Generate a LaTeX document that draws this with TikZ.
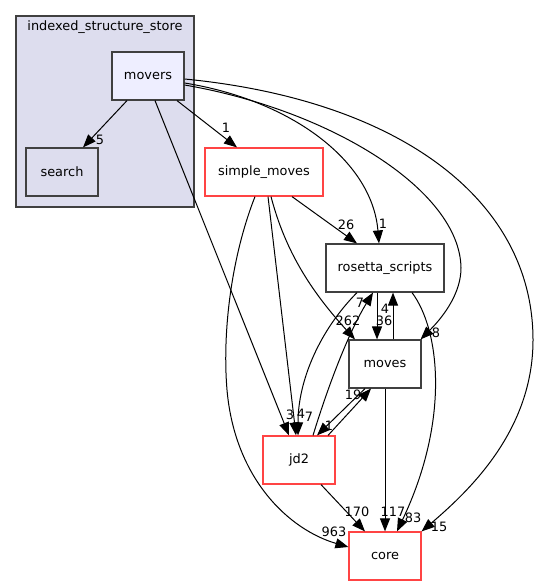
\documentclass[tikz,border=0pt]{standalone}
\usepackage{fontspec}
\setmainfont{DejaVu Sans}
\usetikzlibrary{arrows.meta}

\definecolor{clfill}{HTML}{DDDDEE}
\definecolor{dirfill}{HTML}{EEEEFF}
\definecolor{grey25}{HTML}{404040}
\definecolor{redline}{HTML}{FF4444}

\begin{document}
\begin{tikzpicture}[x=1pt, y=-1pt, font=\fontsize{12.9}{15}\selectfont,
  dirbox/.style={draw=grey25, line width=1.2pt, fill=white, minimum width=72pt, minimum height=48pt, inner sep=0pt},
  truncbox/.style={dirbox, draw=redline},
  dep/.style={-{Triangle[length=13pt,width=10pt]}, line width=1pt},
  num/.style={inner sep=0pt}]
\useasboundingbox (0,0) rectangle (539,585);
% 目录框
\node[draw=grey25, fill=clfill, line width=1.2pt, minimum width=178pt, minimum height=191pt, inner sep=0pt] (store) at (105,111.5) {};
\node[num] (storename) at (105,27) {indexed\_structure\_store};
% 目录
\node[dirbox, fill=dirfill] (movers) at (148,76) {movers};
\node[dirbox, fill=none] (search) at (62,172) {search};
\node[truncbox, minimum width=118pt] (simple) at (264,172) {simple\_moves};
\node[dirbox, minimum width=118pt] (rosetta) at (385,268) {rosetta\_scripts};
\node[dirbox] (moves) at (385,364) {moves};
\node[truncbox] (jd2) at (299,460) {jd2};
\node[truncbox] (core) at (385,556) {core};
% movers 出发
\draw[dep] ([xshift=-21pt]movers.south) -- ([xshift=21pt]search.north);
\draw[dep] ([xshift=29pt]movers.south) -- ([xshift=-27pt]simple.north);
\draw[dep] ([xshift=7pt]movers.south) -- ([xshift=-10pt]jd2.north);
\draw[dep] ([yshift=-7pt]movers.east) .. controls (290,100) and (372,160) .. ([xshift=-6pt]rosetta.north);
\draw[dep] ([yshift=-9pt]movers.east) .. controls (330,110) and (460,190) .. (461,268) .. controls (461,292) and (445,315) .. ([xshift=-1pt]moves.north east);
\draw[dep] ([yshift=-3pt]movers.east) .. controls (400,100) and (533,200) .. (533,340) .. controls (533,430) and (470,490) .. (core.north east);
% simple_moves 出发
\draw[dep] ([xshift=28pt]simple.south) -- ([xshift=-28pt]rosetta.north);
\draw[dep] ([xshift=7pt]simple.south) .. controls (285,250) and (310,290) .. ([xshift=-30pt]moves.north);
\draw[dep] ([xshift=4pt]simple.south) -- ([xshift=-3pt]jd2.north);
\draw[dep] ([xshift=-9pt]simple.south) .. controls (232,255) and (222,330) .. (227,390) .. controls (235,480) and (290,530) .. ([yshift=9pt]core.west);
% rosetta_scripts 出发
\draw[dep] ([xshift=-8pt]rosetta.south) -- ([xshift=-8pt]moves.north);
\draw[dep] ([xshift=-28pt]rosetta.south) .. controls (320,330) and (298,380) .. ([xshift=-1pt]jd2.north);
\draw[dep] ([xshift=27pt]rosetta.south) .. controls (440,330) and (450,420) .. ([xshift=12pt]core.north);
% moves 出发
\draw[dep] ([xshift=8pt]moves.north) -- ([xshift=8pt]rosetta.south);
\draw[dep] ([xshift=-20pt]moves.south) -- ([xshift=18pt]jd2.north);
\draw[dep] (moves.south) -- (core.north);
% jd2 出发
\draw[dep] ([xshift=14pt]jd2.north) .. controls (330,380) and (350,330) .. ([xshift=-12pt]rosetta.south);
\draw[dep] ([xshift=29pt]jd2.north) -- ([xshift=-14pt]moves.south);
\draw[dep] ([xshift=22pt]jd2.south) -- ([xshift=-20pt]core.north);
%Text
\node[num] (n5) at (100,140) {5};
\node[num] (n1a) at (226,128) {1};
\node[num] (n1b) at (383,224) {1};
\node[num] (n8) at (436,333) {8};
\node[num] (n15) at (439,527) {15};
\node[num] (n26) at (346,225) {26};
\node[num] (n262) at (348,321) {262};
\node[num] (n3) at (290,415) {3};
\node[num] (n4a) at (301,414) {4};
\node[num] (n7a) at (309,417) {7};
\node[num] (n963) at (334,532) {963};
\node[num] (n7b) at (360,303) {7};
\node[num] (n4b) at (385,309) {4};
\node[num] (n36) at (384,321) {36};
\node[num] (n83) at (413,518) {83};
\node[num] (n1c) at (329,426) {1};
\node[num] (n19) at (353,395) {19};
\node[num] (n117) at (393,512) {117};
\node[num] (n170) at (357,512) {170};
\end{tikzpicture}
\end{document}
